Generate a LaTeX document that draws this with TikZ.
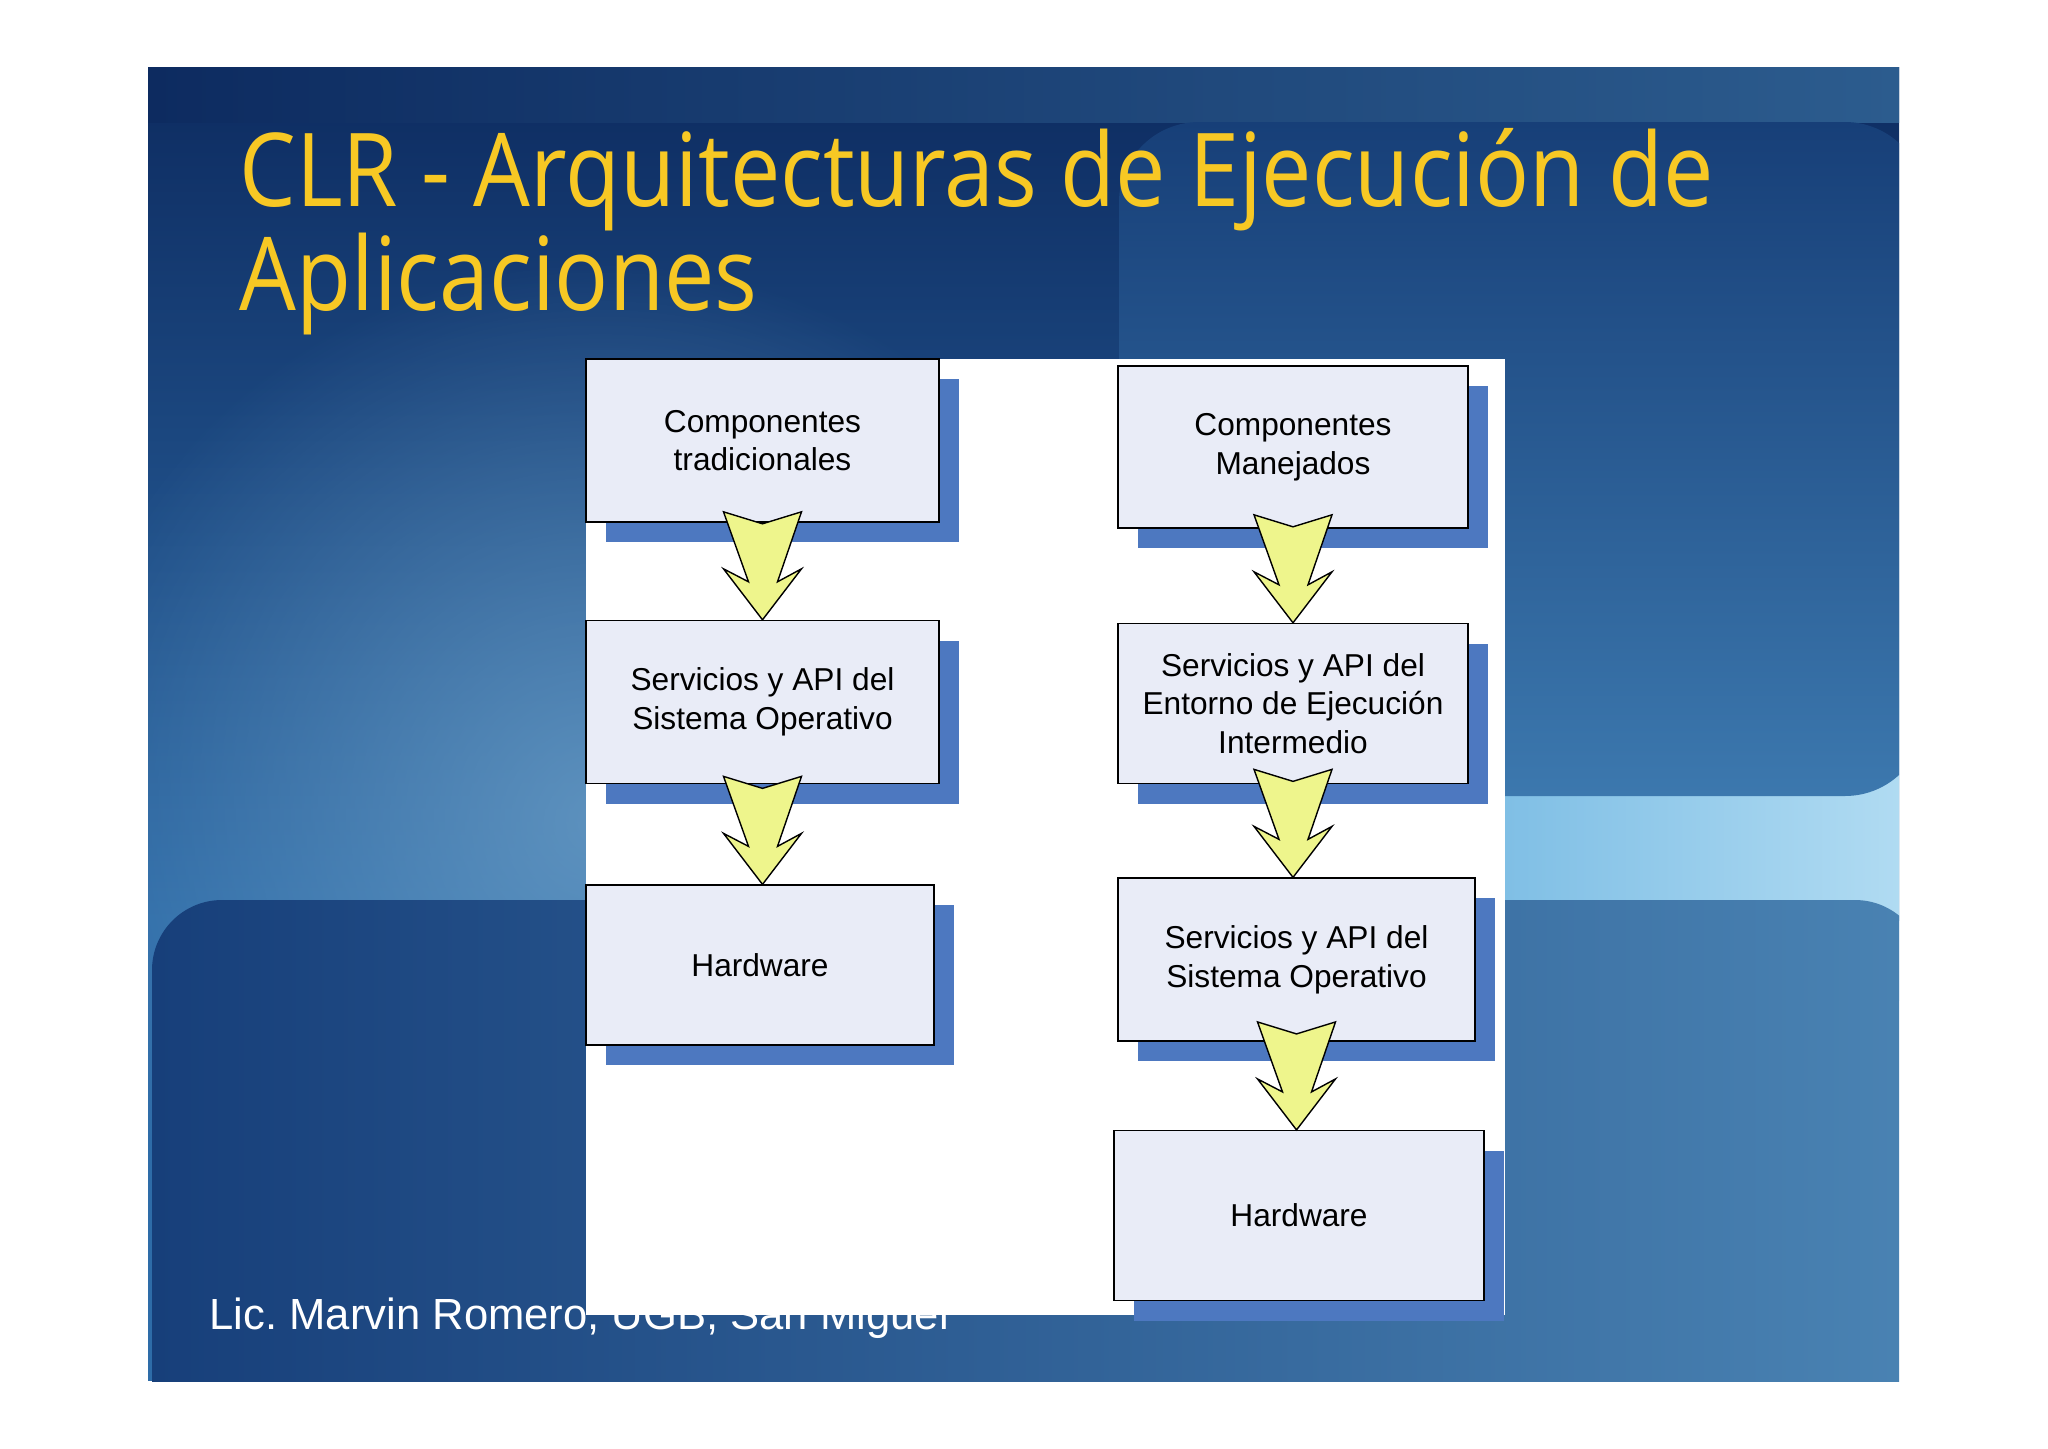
\documentclass[tikz,border=0pt]{standalone}
\usepackage{fontspec}
\setmainfont{Liberation Sans}
\newfontfamily\titlefont[FakeStretch=0.88]{Open Sans}
\usepackage{tikz}
\usetikzlibrary{positioning}
\usetikzlibrary{shadows}
\usetikzlibrary{calc}
\usetikzlibrary{fadings}
\definecolor{marino}{HTML}{0D2B60}
\definecolor{medio}{HTML}{2E6CA8}
\definecolor{topclaro}{HTML}{2C5C8E}
\definecolor{brillo}{HTML}{6A9DC6}
\definecolor{arriba1}{HTML}{173F78}
\definecolor{arriba2}{HTML}{3C78AE}
\definecolor{banda1}{HTML}{4EA2D8}
\definecolor{banda2}{HTML}{B0DBF2}
\definecolor{bajo1}{HTML}{173F7A}
\definecolor{bajo2}{HTML}{4A83B3}
\definecolor{cajafondo}{HTML}{E9ECF7}
\definecolor{sombra}{HTML}{4D78C0}
\definecolor{amarillo}{HTML}{EEF58C}
\definecolor{oro}{HTML}{F7C824}
\tikzfading[name=suave, inner color=transparent!0, outer color=transparent!100]
\tikzset{
    caja/.style={
           rectangle,
           draw=black, thin,
           fill=cajafondo,
           minimum width=3.53cm,
           minimum height=1.63cm,
           inner sep=2pt,
           align=center,
           font=\fontsize{9}{11}\selectfont,
           drop shadow={shadow xshift=0.2cm, shadow yshift=-0.2cm, fill=sombra, opacity=1},
           },
    flecha/.style={
           draw=black, thin,
           fill=amarillo,
           },
    titulo/.style={
           text=oro,
           font=\titlefont\fontsize{29}{29}\selectfont,
           inner sep=0pt,
           },
    pie/.style={
           text=white,
           font=\fontsize{12.4}{13}\selectfont,
           inner sep=0pt,
           },
}
% flecha gruesa de #1 hacia #2
\newcommand{\flecha}[2]{%
	\draw[flecha] ($(#1.south |- #2.north)+(-39,-108)$) -- ++(39,12) -- ++(39,-12)
		-- ++(-24,70) -- ++(24,-13) -- (#1.south |- #2.north)
		-- ++(-39,-51) -- ++(25,13) -- cycle;
}

\begin{document}
\begin{tikzpicture}[x=0.01cm, y=-0.01cm, node distance=0.97cm]
	\useasboundingbox (0,0) rectangle (2048,1448);
	\fill[white] (0,0) rectangle (2048,1448);
	
	% fondo
	\begin{scope}
		\clip (148,67) rectangle (1899,1381);
		\fill[medio] (148,67) rectangle (1899,1381);
		\shade[top color=marino, bottom color=medio] (148,67) rectangle (1899,920);
		\shade[left color=marino, right color=topclaro] (148,67) rectangle (1899,122);
		\fill[brillo, path fading=suave, opacity=0.8] (600,820) circle (560);
		\shade[left color=banda1, right color=banda2] (1100,700) rectangle (1899,1000);
		\shade[top color=arriba1, bottom color=arriba2, rounded corners=0.8cm] (1119,122) rectangle (1925,796);
		\shade[left color=bajo1, right color=bajo2, rounded corners=0.7cm] (152,900) rectangle (1925,1500);
	\end{scope}
	
	% titulo y pie
	\node[titulo, anchor=base west] (tit1) at (239,206) {CLR - Arquitecturas de Ejecución de};
	\node[titulo, anchor=base west] (tit2) at (239,310) {Aplicaciones};
	\node[pie, anchor=base west] (pie) at (209,1329) {Lic.\ Marvin Romero, UGB, San Miguel};
	
	% panel blanco
	\fill[white] (586,359) rectangle (1505,1315);
	
	% arquitectura tradicional
	\node[caja] (compTrad) at (762.5,440.5) {Componentes\\tradicionales};
	\node[caja, below=of compTrad] (servSO) {Servicios y API del\\Sistema Operativo};
	\node[caja, below=1cm of servSO, minimum width=3.48cm, minimum height=1.6cm, xshift=-0.025cm] (hwIzq) {Hardware};
	
	% arquitectura manejada
	\node[caja, minimum width=3.5cm, minimum height=1.62cm] (compMan) at (1293,447) {Componentes\\Manejados};
	\node[caja, below=0.94cm of compMan, minimum width=3.5cm, minimum height=1.6cm] (servEnt) {Servicios y API del\\Entorno de Ejecución\\Intermedio};
	\node[caja, below=0.93cm of servEnt, minimum width=3.57cm, xshift=0.035cm] (servSO2) {Servicios y API del\\Sistema Operativo};
	\node[caja, below=0.88cm of servSO2, minimum width=3.7cm, minimum height=1.7cm, xshift=0.025cm] (hwDer) {Hardware};
	
	\flecha{compTrad}{servSO}
	\flecha{servSO}{hwIzq}
	\flecha{compMan}{servEnt}
	\flecha{servEnt}{servSO2}
	\flecha{servSO2}{hwDer}
\end{tikzpicture}
\end{document}
